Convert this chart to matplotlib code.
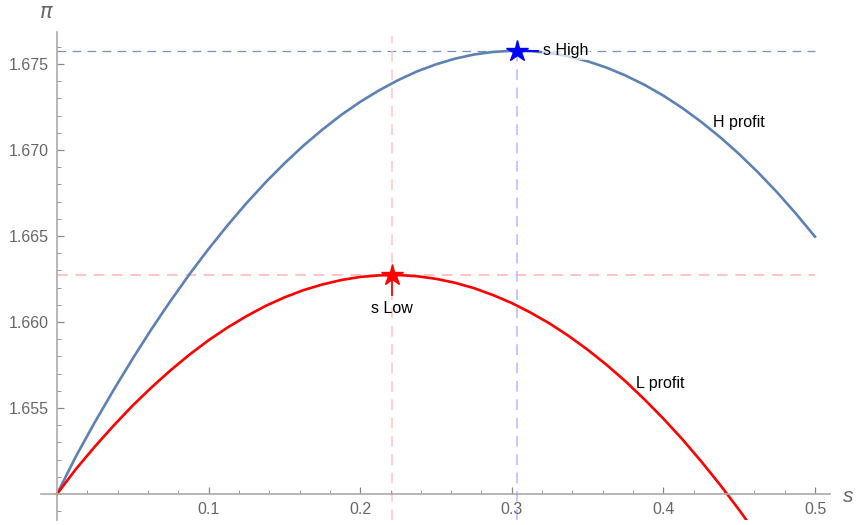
import numpy as np
import matplotlib.pyplot as plt
from matplotlib.ticker import MultipleLocator, FixedLocator

plt.rcParams['font.family'] = ['Liberation Sans', 'DejaVu Sans']

s_h = np.linspace(0.0, 0.5, 41)
h_profit = [1.65000, 1.65219, 1.65418, 1.65607, 1.65788, 1.65961, 1.66124,
            1.66279, 1.66425, 1.66562, 1.66691, 1.66811, 1.66922, 1.67025,
            1.67118, 1.67204, 1.67280, 1.67347, 1.67406, 1.67457, 1.67498,
            1.67531, 1.67555, 1.67570, 1.67577, 1.67575, 1.67564, 1.67544,
            1.67516, 1.67479, 1.67433, 1.67379, 1.67316, 1.67244, 1.67163,
            1.67074, 1.66976, 1.66869, 1.66754, 1.66629, 1.66496]
s_l = np.linspace(0.0, 0.4625, 38)
l_profit = [1.65000, 1.65145, 1.65276, 1.65399, 1.65515, 1.65621, 1.65720,
            1.65811, 1.65894, 1.65968, 1.66034, 1.66093, 1.66143, 1.66185,
            1.66218, 1.66244, 1.66262, 1.66271, 1.66273, 1.66266, 1.66251,
            1.66228, 1.66197, 1.66157, 1.66110, 1.66054, 1.65991, 1.65919,
            1.65839, 1.65751, 1.65655, 1.65550, 1.65438, 1.65318, 1.65189,
            1.65052, 1.64907, 1.64754]

s_high, pi_high = 0.3032, 1.67577
s_low, pi_low = 0.2208, 1.66273

x_ticks = [0.1, 0.2, 0.3, 0.4, 0.5]
y_ticks = [1.655, 1.660, 1.665, 1.670, 1.675]

blue = "#5E81B5"

fig = plt.figure(figsize=(8.57, 5.25), dpi=100)
ax = fig.add_axes([41 / 857, 5 / 525, 789 / 857, 488.3 / 525])
ax.set_xlim(-0.01055, 0.50989)
ax.set_ylim(1.648488, 1.676878)

# reference lines
ax.plot([0, 0.5], [pi_high, pi_high], color="#7393C4", lw=0.9, dashes=(7, 5), zorder=1)
ax.plot([0, 0.5], [pi_low, pi_low], color="#FFB3B3", lw=1.1, dashes=(7, 5), zorder=1)
ax.plot([s_low, s_low], [1.6485, 1.6766], color="#FFC4C4", lw=1.1, dashes=(7, 5), zorder=1)
ax.plot([s_high, s_high], [1.6485, pi_high], color="#B8B8FF", lw=1.1, dashes=(7, 5), zorder=1)

# profit curves
ax.plot(s_h, h_profit, color=blue, lw=1.9, zorder=2)
ax.plot(s_l, l_profit, color="red", lw=1.9, zorder=2)

# callouts
ax.plot([s_high, s_high + 0.014], [pi_high, pi_high], color="blue", lw=1.3, zorder=3)
ax.plot(s_high, pi_high, marker="*", color="blue", ms=16, zorder=4)
ax.text(s_high + 0.0175, pi_high, "s High", fontsize=11.5, va="center", ha="left",
        bbox=dict(facecolor="white", edgecolor="none", alpha=0.7, pad=1), zorder=5)
ax.plot([s_low, s_low], [pi_low, 1.66157], color="red", lw=1.3, zorder=3)
ax.plot(s_low, pi_low, marker="*", color="red", ms=16, zorder=4)
ax.text(s_low, 1.66076, "s Low", fontsize=11.5, va="center", ha="center", zorder=5)

ax.text(0.4325, 1.67161, "H profit", fontsize=11.5, va="center", ha="left")
ax.text(0.3819, 1.65644, "L profit", fontsize=11.5, va="center", ha="left")

# Mathematica-like axes through the origin
for side in ["top", "right"]:
    ax.spines[side].set_visible(False)
ax.spines["left"].set_position(("data", 0))
ax.spines["bottom"].set_position(("data", 1.65))
for side in ["left", "bottom"]:
    ax.spines[side].set_color("#AAAAAA")
    ax.spines[side].set_linewidth(1.2)

ax.xaxis.set_major_locator(FixedLocator(x_ticks))
ax.yaxis.set_major_locator(FixedLocator(y_ticks))
ax.xaxis.set_minor_locator(MultipleLocator(0.02))
ax.yaxis.set_minor_locator(MultipleLocator(0.001))
ax.set_xticklabels(["0.1", "0.2", "0.3", "0.4", "0.5"])
ax.set_yticklabels(["1.655", "1.660", "1.665", "1.670", "1.675"])
ax.tick_params(which="major", direction="in", length=5, width=0.9, color="#888888",
               labelsize=11.5, labelcolor="#666666", pad=6)
ax.tick_params(which="minor", direction="in", length=3, width=0.7, color="#999999")

fig.text(46 / 857, 1 - 12 / 525, r"$\pi$", fontsize=15, color="#666666", ha="center", va="center")
fig.text(848 / 857, 1 - 496 / 525, "s", fontsize=15, color="#666666", style="italic",
         ha="center", va="center")

plt.savefig("out.png", dpi=100)
